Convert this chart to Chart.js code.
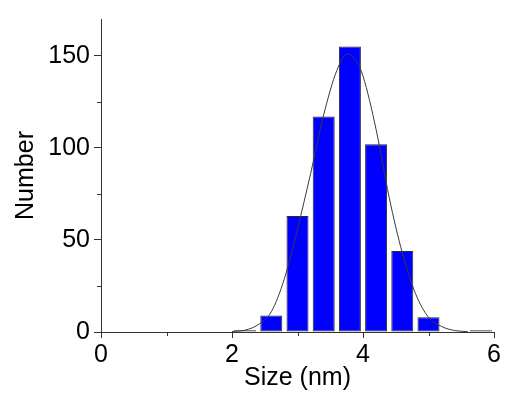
<!DOCTYPE html>
<html>
<head>
<meta charset="utf-8">
<script src="https://cdn.jsdelivr.net/npm/chart.js@4/dist/chart.umd.min.js"></script>
<style>
  html, body { margin: 0; padding: 0; background: #fff; }
  #wrap { width: 505px; height: 395px; }
</style>
</head>
<body>
<div id="wrap"><canvas id="c" width="505" height="395"></canvas></div>
<script>
// Histogram bins (bin centres, nm) and particle counts
const binCenters = [2.2, 2.6, 3.0, 3.4, 3.8, 4.2, 4.6, 5.0, 5.8];
const binCounts  = [1, 9, 63, 117, 155, 102, 44, 8, 1];

// Fitted distribution curve, sampled points (size nm, count)
const fitSizes  = [2.0, 2.2, 2.4, 2.6, 2.8, 3.0, 3.2, 3.4, 3.6, 3.76, 3.9, 4.0, 4.2, 4.4, 4.6, 4.8, 5.0, 5.2, 5.4, 5.6];
const fitCounts = [0.3, 1, 4, 11, 29, 56, 86, 118, 142, 151, 147, 139, 110, 73, 43, 21, 8, 3, 0.8, 0.2];

// Axis ticks
const xMajorTicks = [0, 2, 4, 6];
const xMinorTicks = [1, 3, 5];
const yMajorTicks = [0, 50, 100, 150];
const yMinorTicks = [25, 75, 125];

const AXIS = '#333333';
const FONT = '"Liberation Sans", Arial, sans-serif';

// Short minor ticks drawn at the scale positions
const minorTicks = {
  id: 'minorTicks',
  afterDraw(chart) {
    const { ctx, scales: { x, y }, chartArea } = chart;
    ctx.save();
    ctx.strokeStyle = AXIS;
    ctx.lineWidth = 1;
    ctx.beginPath();
    xMinorTicks.forEach(v => {
      const px = Math.round(x.getPixelForValue(v)) + 0.5;
      ctx.moveTo(px, chartArea.bottom);
      ctx.lineTo(px, chartArea.bottom + 4);
    });
    yMinorTicks.forEach(v => {
      const py = Math.round(y.getPixelForValue(v)) + 0.5;
      ctx.moveTo(chartArea.left, py);
      ctx.lineTo(chartArea.left - 4, py);
    });
    ctx.stroke();
    ctx.restore();
  }
};

new Chart(document.getElementById('c'), {
  type: 'bar',
  data: {
    datasets: [
      {
        type: 'line',
        data: fitSizes.map((s, i) => ({ x: s, y: fitCounts[i] })),
        borderColor: '#3a3a3a',
        borderWidth: 1,
        pointRadius: 0,
        cubicInterpolationMode: 'monotone',
        fill: false,
        order: 0
      },
      {
        type: 'bar',
        data: binCenters.map((c, i) => ({ x: c, y: binCounts[i] })),
        backgroundColor: '#0000ff',
        borderColor: '#2a2a2a',
        borderWidth: 1,
        borderSkipped: false,
        categoryPercentage: 1,
        barPercentage: 0.84,
        order: 1
      }
    ]
  },
  options: {
    responsive: false,
    animation: false,
    events: [],
    layout: { padding: { top: 15, right: 11, left: 0, bottom: 0 } },
    plugins: { legend: { display: false }, tooltip: { enabled: false } },
    scales: {
      x: {
        type: 'linear',
        min: 0,
        max: 6,
        offset: false,
        afterFit(s) { s.height = 63; },
        afterBuildTicks(s) { s.ticks = xMajorTicks.map(v => ({ value: v })); },
        grid: { drawOnChartArea: false, offset: false, tickLength: 6, tickColor: AXIS, tickWidth: 1 },
        border: { color: AXIS, width: 1 },
        ticks: { color: '#000', font: { family: FONT, size: 25 }, padding: 2, maxRotation: 0 },
        title: { display: true, text: 'Size (nm)', color: '#000', font: { family: FONT, size: 25 }, padding: { top: 0, bottom: 2 } }
      },
      y: {
        type: 'linear',
        min: 0,
        max: 170,
        afterFit(s) { s.width = 101; },
        afterBuildTicks(s) { s.ticks = yMajorTicks.map(v => ({ value: v })); },
        grid: { drawOnChartArea: false, tickLength: 7, tickColor: AXIS, tickWidth: 1 },
        border: { color: AXIS, width: 1 },
        ticks: { color: '#000', font: { family: FONT, size: 25 }, padding: 4 },
        title: { display: true, text: 'Number', color: '#000', font: { family: FONT, size: 25 }, padding: { top: 11, bottom: 0 } }
      }
    }
  },
  plugins: [minorTicks]
});
</script>
</body>
</html>
